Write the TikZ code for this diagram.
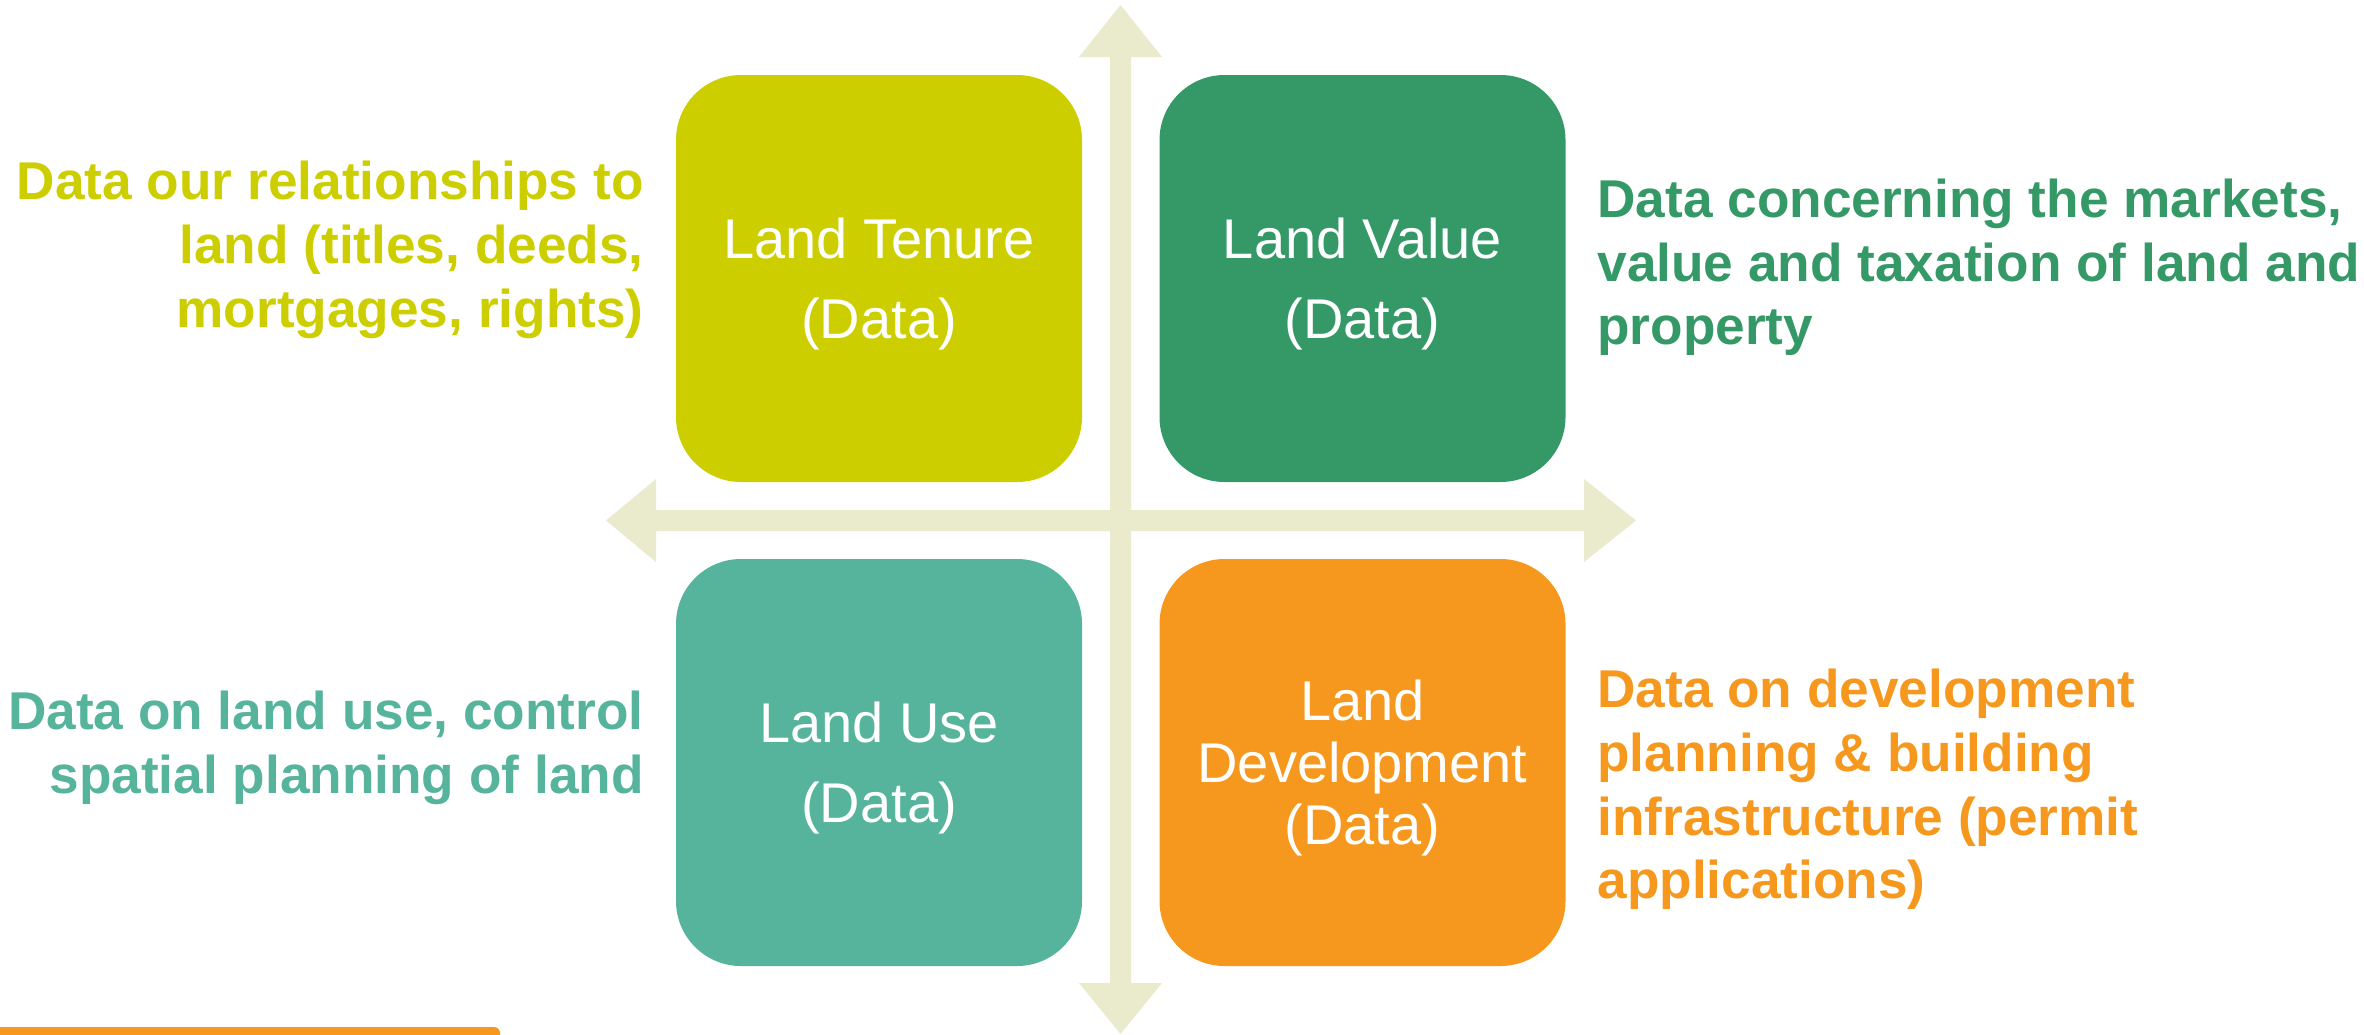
\documentclass[tikz,border=0pt]{standalone}
\usepackage{fontspec}
\setmainfont{Liberation Sans}
\definecolor{tenurec}{RGB}{205,206,0}
\definecolor{valuec}{RGB}{52,153,103}
\definecolor{usec}{RGB}{86,179,156}
\definecolor{devc}{RGB}{245,152,29}
\definecolor{axisc}{RGB}{234,234,204}
\newcommand{\topstrut}{\rule{0pt}{25.5pt}}
\begin{document}
\begin{tikzpicture}[x=0.5pt,y=-0.5pt,
  quad/.style={rectangle, rounded corners=32.5pt, minimum width=203pt, minimum height=203.5pt,
    inner sep=0pt, text=white, align=center, font=\fontsize{28}{40}\selectfont},
  side/.style={inner sep=0pt, font=\fontsize{26.6}{32}\selectfont\bfseries},
]
\useasboundingbox (0,0) rectangle (2364,1034);
% axes
\fill[axisc] (1120.5,5) -- (1162,57) -- (1131,57) -- (1131,510) -- (1584,510) -- (1584,479)
  -- (1636,520.5) -- (1584,562) -- (1584,531) -- (1131,531) -- (1131,983) -- (1162,983)
  -- (1120.5,1034) -- (1079,983) -- (1110,983) -- (1110,531) -- (656,531) -- (656,562)
  -- (606,520.5) -- (656,479) -- (656,510) -- (1110,510) -- (1110,57) -- (1079,57) -- cycle;
% quadrant boxes
\node[quad, fill=tenurec] (tenure) at (879,278.5) {\topstrut Land Tenure\\(Data)};
\node[quad, fill=valuec] (value) at (1362.5,278.5) {\topstrut Land Value\\(Data)};
\node[quad, fill=usec] (use) at (879,762.5) {\topstrut Land Use\\(Data)};
\node[quad, fill=devc, font=\fontsize{28}{31}\selectfont] (dev) at (1362.5,762.5) {\topstrut Land\\Development\\(Data)};
% side texts
\node[side, text=tenurec, anchor=base east] (tl1) at (644,199) {Data our relationships to};
\node[side, text=tenurec, anchor=base east] (tl2) at (644,263) {land (titles, deeds,};
\node[side, text=tenurec, anchor=base east] (tl3) at (644,327) {mortgages, rights)};
\node[side, text=valuec, anchor=base west] (tr1) at (1597,217) {Data concerning the markets,};
\node[side, text=valuec, anchor=base west] (tr2) at (1597,281) {value and taxation of land and};
\node[side, text=valuec, anchor=base west] (tr3) at (1597,344) {property};
\node[side, text=usec, anchor=base east] (bl1) at (644,729) {Data on land use, control};
\node[side, text=usec, anchor=base east] (bl2) at (644,793) {spatial planning of land};
\node[side, text=devc, anchor=base west] (br1) at (1597,707) {Data on development};
\node[side, text=devc, anchor=base west] (br2) at (1597,771) {planning \& building};
\node[side, text=devc, anchor=base west] (br3) at (1597,835) {infrastructure (permit};
\node[side, text=devc, anchor=base west] (br4) at (1597,898) {applications)};
% bottom bar
\fill[devc, rounded corners=3pt] (-20,1027) rectangle (500,1070);
\end{tikzpicture}
\end{document}
